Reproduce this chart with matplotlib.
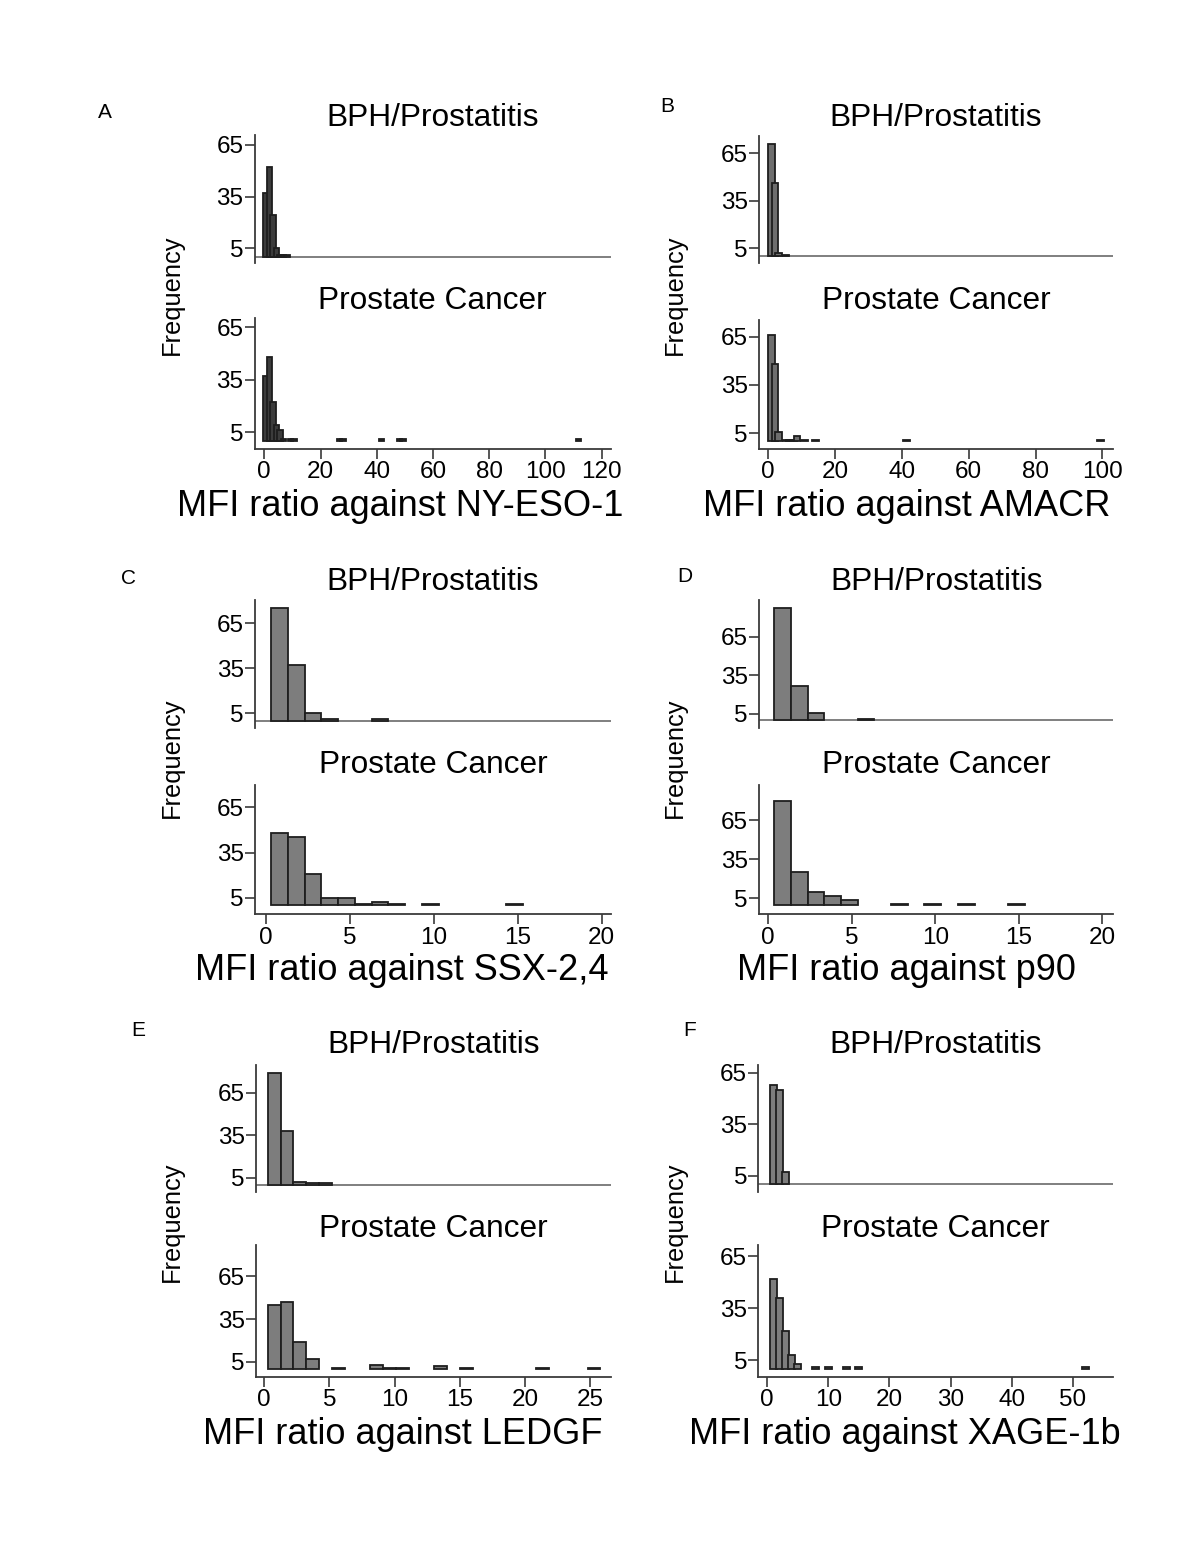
import matplotlib
matplotlib.use('Agg')
import matplotlib.pyplot as plt

plt.rcParams['font.family'] = ['Liberation Sans', 'DejaVu Sans']

W, H = 1200, 1544
fig = plt.figure(figsize=(W / 100, H / 100), dpi=100)

groups = ["BPH/Prostatitis", "Prostate Cancer"]
ytick_vals = [5, 35, 65]

# ---- data per panel: bin start, bin step, bar width, counts per bin
# (top row of each panel: BPH/Prostatitis, bottom row: Prostate Cancer)
A_xticks = [0, 20, 40, 60, 80, 100, 120]
A_start, A_step, A_barw = -0.45, 1.25, 1.95
A_bph = [37, 52, 24, 5, 1, 1, 1]
A_pca = ([37, 48, 22, 9, 6, 1, 0, 1, 1] + [0] * 12 + [1, 1] + [0] * 10 +
         [1] + [0] * 4 + [1, 1] + [0] * 49 + [1])

B_xticks = [0, 20, 40, 60, 80, 100]
B_start, B_step, B_barw = -0.1, 1.095, 2.0
B_bph = [71, 46, 2, 0, 1]
B_pca = ([66, 48, 6, 0, 1, 1, 1, 3, 0, 1, 0, 0, 1] + [0] * 24 + [1] +
         [0] * 52 + [1])

C_xticks = [0, 5, 10, 15, 20]
C_start, C_step, C_barw = 0.3, 1.0, 1.0
C_bph = [75, 37, 5, 1, 0, 0, 1]
C_pca = [48, 45, 21, 5, 5, 1, 2, 1, 0, 1, 0, 0, 0, 0, 1]

D_xticks = [0, 5, 10, 15, 20]
D_start, D_step, D_barw = 0.35, 1.0, 1.0
D_bph = [87, 27, 6, 0, 0, 1]
D_pca = [80, 25, 10, 7, 4, 0, 0, 1, 0, 1, 0, 1, 0, 0, 1]

E_xticks = [0, 5, 10, 15, 20, 25]
E_start, E_step, E_barw = 0.3, 0.98, 0.98
E_bph = [79, 38, 2, 1, 1]
E_pca = [45, 47, 19, 7, 0, 1, 0, 0, 3, 1, 1, 0, 0, 2, 0, 1, 0, 0, 0, 0, 0, 1,
         0, 0, 0, 1]

F_xticks = [0, 10, 20, 30, 40, 50]
F_start, F_step, F_barw = 0.43, 1.0, 1.14
F_bph = [58, 55, 7]
F_pca = [52, 41, 22, 8, 3, 0, 0, 1, 0, 1, 0, 0, 1, 0, 1] + [0] * 36 + [1]

xlabels = ["MFI ratio against NY-ESO-1", "MFI ratio against AMACR",
           "MFI ratio against SSX-2,4", "MFI ratio against p90",
           "MFI ratio against LEDGF", "MFI ratio against XAGE-1b"]

# ---- layout (pixels)
layout = {
    'A': dict(ax_x=254.5, x0=264.3, ppu=2.81, right=611, fc='#3c3c3c',
              top=(135, 263), bot=(318, 449), ylt=(-3.7, 70.8), ylb=(-4.6, 70.3),
              letter=(105, 112), title_y=(118, 301), freq=(172, 295), xlab=(400, 507)),
    'B': dict(ax_x=759, x0=768.3, ppu=3.34, right=1113, fc='#6e6e6e',
              top=(136, 263), bot=(320, 449), ylt=(-4.3, 75.9), ylb=(-4.8, 75.4),
              letter=(667, 107), title_y=(118, 301), freq=(675, 295), xlab=(907, 507)),
    'C': dict(ax_x=255, x0=266, ppu=16.78, right=610.7, fc='#7d7d7d',
              top=(600, 728), bot=(785, 914), ylt=(-5.0, 80.6), ylb=(-5.8, 79.8),
              letter=(128, 578), title_y=(582, 765), freq=(172, 758), xlab=(402, 971)),
    'D': dict(ax_x=759, x0=768.3, ppu=16.7, right=1113.3, fc='#7d7d7d',
              top=(600, 728), bot=(785, 914), ylt=(-5.9, 93.4), ylb=(-7.0, 91.9),
              letter=(685, 577), title_y=(582, 765), freq=(675, 758), xlab=(906, 971)),
    'E': dict(ax_x=256, x0=264, ppu=13.05, right=610.7, fc='#7d7d7d',
              top=(1065, 1192), bot=(1245, 1377), ylt=(-5.1, 84.5), ylb=(-5.5, 86.7),
              letter=(138, 1030), title_y=(1045, 1229), freq=(172, 1222), xlab=(403, 1435)),
    'F': dict(ax_x=758.3, x0=767, ppu=6.12, right=1113.3, fc='#7d7d7d',
              top=(1065, 1192), bot=(1245, 1377), ylt=(-4.5, 69.6), ylb=(-4.6, 71.4),
              letter=(690, 1030), title_y=(1045, 1229), freq=(675, 1222), xlab=(905, 1435)),
}

panel_data = {
    'A': (A_xticks, A_start, A_step, A_barw, A_bph, A_pca, xlabels[0]),
    'B': (B_xticks, B_start, B_step, B_barw, B_bph, B_pca, xlabels[1]),
    'C': (C_xticks, C_start, C_step, C_barw, C_bph, C_pca, xlabels[2]),
    'D': (D_xticks, D_start, D_step, D_barw, D_bph, D_pca, xlabels[3]),
    'E': (E_xticks, E_start, E_step, E_barw, E_bph, E_pca, xlabels[4]),
    'F': (F_xticks, F_start, F_step, F_barw, F_bph, F_pca, xlabels[5]),
}

BAR_EC = '#1e1e1e'
AX_C = '#3a3a3a'
TICK_FS = 17.5


def ax_at(x0, y0, x1, y1):
    return fig.add_axes([x0 / W, 1 - y1 / H, (x1 - x0) / W, (y1 - y0) / H])


def draw_bars(ax, start, step, barw, counts, fc):
    lefts = [start + step * i for i, c in enumerate(counts) if c > 0]
    hs = [c for c in counts if c > 0]
    ax.bar(lefts, hs, width=barw, align='edge', facecolor=fc,
           edgecolor=BAR_EC, linewidth=1.3, zorder=3)


for key, L in layout.items():
    xt, start, step, barw, bph, pca, xl = panel_data[key]
    xmin = (L['ax_x'] - L['x0']) / L['ppu']
    xmax = (L['right'] - L['x0']) / L['ppu']
    for (y0, y1), yl, counts, is_bottom in ((L['top'], L['ylt'], bph, False),
                                            (L['bot'], L['ylb'], pca, True)):
        ax = ax_at(L['ax_x'], y0, L['right'], y1)
        ax.set_xlim(xmin, xmax)
        ax.set_ylim(*yl)
        draw_bars(ax, start, step, barw, counts, L['fc'])
        for s in ('top', 'right'):
            ax.spines[s].set_visible(False)
        ax.spines['left'].set_color(AX_C)
        ax.spines['left'].set_linewidth(1.3)
        ax.set_yticks(ytick_vals)
        ax.tick_params(axis='y', length=7, width=1.2, color=AX_C,
                       labelsize=TICK_FS, pad=1)
        if is_bottom:
            ax.spines['bottom'].set_color(AX_C)
            ax.spines['bottom'].set_linewidth(1.3)
            ax.set_xticks(xt)
            ax.tick_params(axis='x', length=7, width=1.2, color=AX_C,
                           labelsize=TICK_FS, pad=2)
        else:
            ax.spines['bottom'].set_visible(False)
            ax.set_xticks([])
            ax.axhline(0, color='#6a6a6a', lw=1.2, zorder=2)
        ax.patch.set_alpha(0)
    cx = (L['ax_x'] + L['right']) / 2
    for g, ty in zip(groups, L['title_y']):
        fig.text(cx / W, 1 - ty / H, g, ha='center', va='center', fontsize=22.8)
    fig.text(L['freq'][0] / W, 1 - L['freq'][1] / H, "Frequency", rotation=90,
             ha='center', va='center', fontsize=18.3)
    fig.text(L['xlab'][0] / W, 1 - L['xlab'][1] / H, xl, ha='center',
             va='center', fontsize=26)
    fig.text(L['letter'][0] / W, 1 - L['letter'][1] / H, key, ha='center',
             va='center', fontsize=15)

fig.savefig('out.png', dpi=100, facecolor='white')
